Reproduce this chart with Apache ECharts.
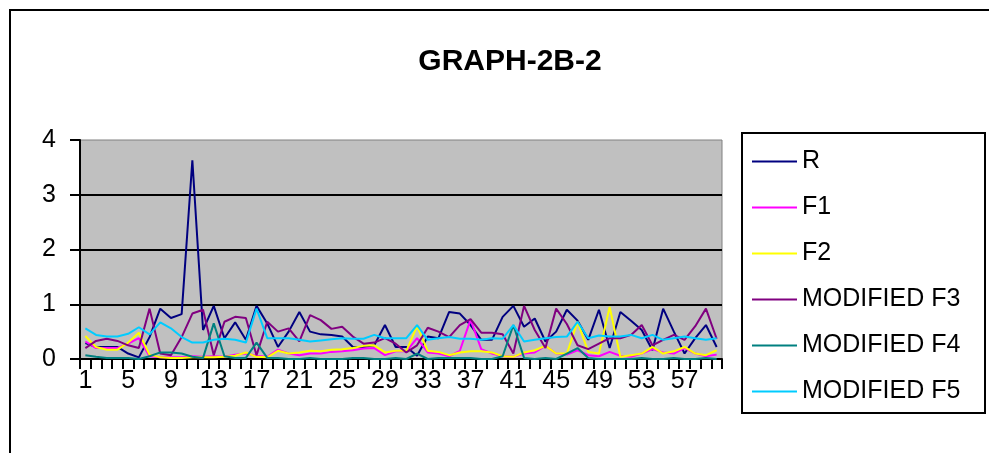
<!DOCTYPE html>
<html>
<head>
<meta charset="utf-8">
<script src="https://cdn.jsdelivr.net/npm/echarts@6/dist/echarts.min.js"></script>
<style>
html,body{margin:0;padding:0;background:#fff;}
#chart{width:989px;height:453px;}
</style>
</head>
<body>
<div id="chart"></div>
<script>
var categories = [];
for (var k = 1; k <= 60; k++) categories.push(String(k));

var seriesNames = ['R', 'F1', 'F2', 'MODIFIED F3', 'MODIFIED F4', 'MODIFIED F5'];
var seriesColors = ['#000080', '#FF00FF', '#FFFF00', '#800080', '#008080', '#00CCFF'];

var R = [0.29,0.22,0.22,0.22,0.10,0.03,0.40,0.92,0.75,0.82,
         3.63,0.53,0.97,0.38,0.67,0.35,0.97,0.65,0.22,0.50,
         0.86,0.50,0.45,0.44,0.41,0.22,0.22,0.25,0.62,0.22,
         0.22,0.06,0.41,0.38,0.86,0.83,0.62,0.35,0.35,0.77,
         0.97,0.59,0.74,0.32,0.50,0.90,0.70,0.35,0.90,0.20,
         0.86,0.70,0.53,0.16,0.92,0.50,0.10,0.38,0.62,0.22];
var F1 = [0.32,0.20,0.20,0.20,0.28,0.38,0.05,0.03,0.03,0.03,
          0.05,0.04,0.05,0.04,0.08,0.10,0.06,0.04,0.17,0.10,
          0.07,0.10,0.10,0.13,0.14,0.16,0.19,0.20,0.07,0.14,
          0.14,0.38,0.12,0.10,0.05,0.15,0.72,0.18,0.10,0.05,
          0.04,0.10,0.12,0.24,0.10,0.08,0.16,0.07,0.05,0.13,
          0.06,0.04,0.10,0.18,0.12,0.10,0.20,0.10,0.05,0.08];
var F2 = [0.42,0.22,0.17,0.17,0.30,0.48,0.08,0.03,0.02,0.02,
          0.03,0.03,0.03,0.04,0.06,0.12,0.04,0.03,0.15,0.10,
          0.12,0.15,0.14,0.17,0.18,0.20,0.24,0.25,0.12,0.15,
          0.15,0.60,0.15,0.13,0.07,0.12,0.14,0.14,0.12,0.05,
          0.04,0.12,0.16,0.24,0.10,0.10,0.68,0.13,0.10,0.95,
          0.04,0.07,0.10,0.22,0.10,0.14,0.22,0.10,0.07,0.16];
var F3 = [0.20,0.33,0.37,0.33,0.25,0.20,0.92,0.10,0.07,0.40,
          0.83,0.90,0.07,0.68,0.77,0.75,0.07,0.68,0.50,0.56,
          0.32,0.80,0.71,0.55,0.59,0.41,0.28,0.30,0.38,0.28,
          0.12,0.25,0.57,0.50,0.40,0.62,0.73,0.48,0.48,0.45,
          0.10,0.97,0.53,0.20,0.92,0.64,0.25,0.18,0.28,0.38,
          0.38,0.44,0.62,0.25,0.35,0.44,0.35,0.60,0.92,0.37];
var F4 = [0.07,0.04,0.02,0.02,0.02,0.00,0.05,0.12,0.12,0.10,
          0.04,0.02,0.65,0.05,0.02,0.02,0.30,0.02,0.02,0.00,
          0.00,0.02,0.00,0.00,0.00,0.02,0.02,0.00,0.00,0.02,
          0.00,0.10,0.00,0.02,0.02,0.02,0.02,0.00,0.00,0.05,
          0.62,0.02,0.00,0.02,0.00,0.10,0.20,0.02,0.00,0.00,
          0.00,0.00,0.02,0.00,0.00,0.02,0.00,0.00,0.02,0.00];
var F5 = [0.56,0.44,0.41,0.41,0.46,0.58,0.45,0.67,0.56,0.40,
          0.30,0.30,0.35,0.37,0.35,0.30,0.92,0.38,0.38,0.38,
          0.35,0.32,0.34,0.36,0.38,0.37,0.37,0.44,0.38,0.38,
          0.38,0.62,0.35,0.38,0.40,0.37,0.37,0.35,0.38,0.37,
          0.62,0.32,0.35,0.38,0.40,0.41,0.68,0.38,0.43,0.41,
          0.41,0.44,0.38,0.44,0.35,0.38,0.41,0.38,0.35,0.38];

var allData = [R, F1, F2, F3, F4, F5];
var FONT = '"Liberation Sans", Arial, sans-serif';

var series = seriesNames.map(function (name, i) {
  return {
    name: name,
    type: 'line',
    data: allData[i],
    symbol: 'none',
    lineStyle: { color: seriesColors[i], width: 2 },
    itemStyle: { color: seriesColors[i] },
    silent: true
  };
});

var chart = echarts.init(document.getElementById('chart'));
chart.setOption({
  animation: false,
  backgroundColor: '#ffffff',
  color: seriesColors,
  title: {
    text: 'GRAPH-2B-2',
    left: 505,
    top: 42,
    textAlign: 'center',
    textStyle: { fontSize: 30, fontWeight: 'bold', color: '#000', fontFamily: FONT }
  },
  legend: {
    orient: 'vertical',
    left: 752,
    top: 149,
    icon: 'rect',
    itemWidth: 45,
    itemHeight: 2,
    itemGap: 21,
    padding: 0,
    textStyle: { fontSize: 25, lineHeight: 25, color: '#000', fontFamily: FONT },
    data: seriesNames.map(function (n, i) {
      return { name: n, icon: 'rect', itemStyle: { color: seriesColors[i], borderWidth: 0 } };
    })
  },
  grid: {
    show: true,
    left: 80,
    right: 267,
    top: 140,
    bottom: 94,
    backgroundColor: '#C0C0C0',
    borderColor: '#808080',
    borderWidth: 1
  },
  xAxis: {
    type: 'category',
    data: categories,
    boundaryGap: true,
    axisLine: { show: true, lineStyle: { color: '#000', width: 2 } },
    axisTick: { show: true, interval: 0, length: 10, lineStyle: { color: '#000', width: 2 } },
    axisLabel: { interval: 3, fontSize: 25, color: '#000', margin: 10, fontFamily: FONT },
    splitLine: { show: false }
  },
  yAxis: {
    type: 'value',
    min: 0,
    max: 4,
    interval: 1,
    axisLine: { show: true, lineStyle: { color: '#000', width: 2 } },
    axisTick: { show: true, length: 10, lineStyle: { color: '#000', width: 2 } },
    axisLabel: { fontSize: 25, color: '#000', margin: 24, fontFamily: FONT },
    splitLine: { show: true, showMaxLine: false, lineStyle: { color: '#000', width: 2 } }
  },
  graphic: [
    {
      type: 'polyline',
      shape: { points: [[10, 460], [10, 10], [995, 10]] },
      style: { stroke: '#000', lineWidth: 2, fill: null },
      silent: true
    },
    {
      type: 'rect',
      shape: { x: 742, y: 133, width: 243, height: 280 },
      style: { stroke: '#000', lineWidth: 2, fill: null },
      silent: true
    }
  ],
  series: series
});
</script>
</body>
</html>
